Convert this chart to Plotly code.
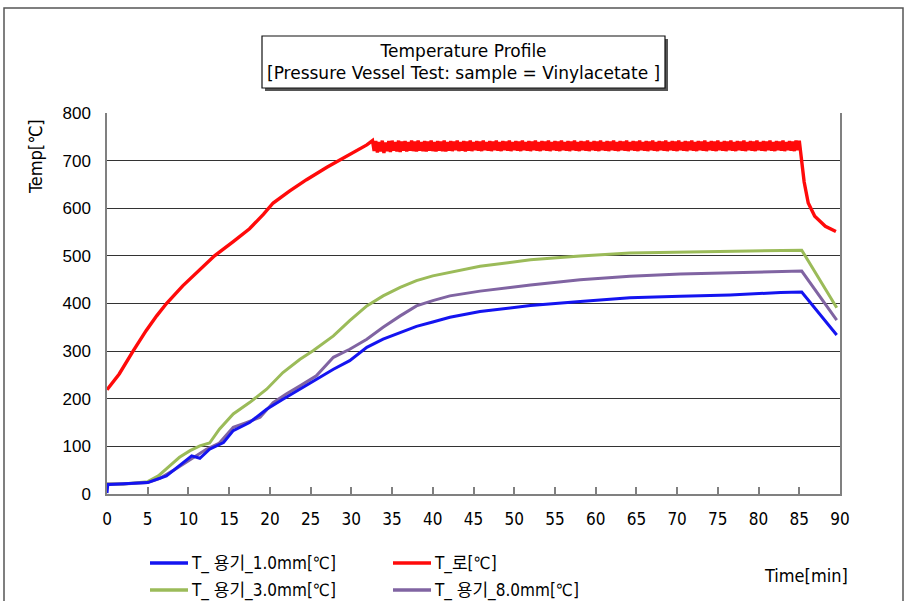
import plotly.graph_objects as go

# ---- furnace temperature (T_로) ----
furnace_rise_t = [0, 1.5, 3.2, 4.8, 6.1, 7.3, 9.3, 11.4, 13.2, 15.5, 17.5,
                  19.2, 20.4, 22.4, 24.5, 27.0, 29.4, 31.9, 32.6]
furnace_rise_v = [219, 252, 300, 343, 374, 400, 437, 470, 500, 530, 557,
                  587, 611, 636, 660, 686, 709, 733, 742]

# plateau logged every 0.2 min from 32.8 to 85.0 min
furnace_plateau_start = 32.8
furnace_plateau_step = 0.2
furnace_plateau_v = [
    720, 741, 717, 739, 719, 742, 716, 738, 720, 741, 718, 742, 721, 739, 719, 742, 718, 740, 721, 741,
    719, 739, 721, 742, 720, 740, 719, 742, 721, 739, 720, 741, 719, 740, 721, 742, 720, 739, 719, 741,
    721, 740, 720, 742, 719, 739, 721, 741, 720, 740, 722, 742, 720, 739, 721, 741, 719, 740, 721, 742,
    720, 739, 722, 741, 721, 740, 720, 742, 722, 739, 721, 741, 720, 740, 722, 742, 721, 739, 720, 741,
    722, 740, 721, 742, 720, 739, 722, 741, 721, 740, 720, 742, 722, 739, 721, 741, 720, 740, 722, 742,
    721, 739, 720, 741, 722, 740, 721, 742, 720, 739, 722, 741, 721, 740, 720, 742, 722, 739, 721, 741,
    720, 740, 722, 742, 721, 739, 720, 741, 722, 740, 721, 742, 720, 739, 722, 741, 721, 740, 720, 742,
    722, 739, 721, 741, 720, 740, 722, 742, 721, 739, 720, 741, 722, 740, 721, 742, 720, 739, 722, 741,
    721, 740, 720, 742, 722, 739, 721, 741, 720, 740, 722, 742, 721, 739, 720, 741, 722, 740, 721, 742,
    720, 739, 722, 741, 721, 740, 720, 742, 722, 739, 721, 741, 720, 740, 722, 742, 721, 739, 720, 741,
    722, 740, 721, 742, 720, 739, 722, 741, 721, 740, 720, 742, 722, 739, 721, 741, 720, 740, 722, 742,
    721, 739, 720, 741, 722, 740, 721, 742, 720, 739, 722, 741, 721, 740, 720, 742, 722, 739, 721, 741,
    720, 740, 722, 742, 721, 739, 720, 741, 722, 740, 721, 742, 720, 739, 722, 741, 721, 740, 720, 742,
    722, 742,
]

furnace_fall_t = [85.3, 85.6, 86.1, 86.9, 88.2, 89.5]
furnace_fall_v = [700, 655, 611, 583, 562, 551]

# ---- vessel wall temperatures ----
v1_t = [0, 0.1, 0.3, 2, 5, 7.3, 8.9, 10.4, 11.4, 12.6, 14.3, 15.5, 17.5, 19.6, 21.6, 23.7,
        25.7, 27.8, 29.8, 31.9, 33.9, 36, 38, 40, 42.1, 45.8, 52, 58.1, 64.2, 70.4, 76.5,
        82.7, 85.3, 89.6]
v1_v = [2, 20, 20, 21, 24, 38, 59, 80, 75, 94, 108, 133, 150, 178, 199, 220,
        241, 262, 280, 308, 325, 339, 352, 361, 371, 383, 396, 404, 412, 415, 418,
        423, 424, 334]

v3_t = [0, 2, 5, 6.3, 7.7, 8.9, 10.2, 11.4, 12.6, 13.8, 15.5, 17.5, 19.6, 21.6, 23.7, 25.3,
        27.8, 29.8, 31.9, 33.9, 36, 38, 40, 42.1, 44.1, 45.8, 52, 58.1, 64.2, 70.4, 76.5,
        82.7, 85.3, 89.6]
v3_v = [21, 21, 26, 38, 59, 77, 91, 101, 107, 136, 168, 192, 220, 255, 283, 301,
        332, 364, 395, 416, 434, 448, 458, 465, 472, 478, 492, 500, 506, 508, 510,
        511, 512, 391]

v8_t = [0, 2, 5, 6.5, 8.1, 9.7, 11, 12.2, 13.8, 15.5, 17.1, 18.8, 20.4, 22, 23.7, 25.7,
        27.8, 29.8, 31.9, 33.9, 36, 38, 40, 42.1, 45.8, 52, 58.1, 64.2, 70.4, 76.5, 82.7,
        85.3, 89.6]
v8_v = [21, 21, 24, 33, 49, 66, 80, 94, 107, 140, 150, 161, 192, 210, 227, 248,
        287, 304, 325, 350, 374, 395, 406, 416, 426, 439, 450, 457, 462, 465, 467,
        468, 365]

x_ticks = list(range(0, 95, 5))
y_ticks = list(range(0, 900, 100))

series_names = ["T_ 용기_1.0mm[℃]", "T_로[℃]", "T_ 용기_3.0mm[℃]", "T_ 용기_8.0mm[℃]"]
series_colors = ["#1414F0", "#FF0A0A", "#9BBB59", "#8064A2"]

furnace_plateau_t = [round(furnace_plateau_start + i * furnace_plateau_step, 2)
                     for i in range(len(furnace_plateau_v))]
furnace_t = furnace_rise_t + furnace_plateau_t + furnace_fall_t
furnace_v = furnace_rise_v + furnace_plateau_v + furnace_fall_v

# page geometry (px) used to place items outside the plot area
W, H = 908, 601
L, R, T, B = 107, 68, 113, 107
PW, PH = W - L - R, H - T - B


def px(x):
    return (x - L) / PW


def py(y):
    return (H - B - y) / PH


NARROW = "Liberation Sans Narrow, DejaVu Sans Condensed, Noto Sans CJK KR, sans-serif"

fig = go.Figure()

traces = [
    (v3_t, v3_v, 2, 3.0),
    (v8_t, v8_v, 3, 3.0),
    (v1_t, v1_v, 0, 3.0),
    (furnace_t, furnace_v, 1, 3.4),
]
for t, v, idx, w in traces:
    fig.add_trace(go.Scatter(
        x=t, y=v, mode="lines", name=series_names[idx],
        line=dict(color=series_colors[idx], width=w),
        showlegend=False, hoverinfo="x+y+name",
    ))

shapes = []
annotations = []

# outer frame
shapes.append(dict(type="rect", xref="paper", yref="paper",
                   x0=px(4), x1=px(903), y0=py(612), y1=py(8),
                   line=dict(color="#555555", width=1.5), fillcolor="rgba(0,0,0,0)",
                   layer="above"))

# title box with drop shadow
shapes.append(dict(type="rect", xref="paper", yref="paper",
                   x0=px(265), x1=px(668), y0=py(91), y1=py(39),
                   line=dict(width=0), fillcolor="#555555"))
shapes.append(dict(type="rect", xref="paper", yref="paper",
                   x0=px(262), x1=px(665), y0=py(88), y1=py(36),
                   line=dict(color="#111111", width=1.2), fillcolor="#FFFFFF"))
annotations.append(dict(xref="paper", yref="paper", x=px(463), y=py(62),
                        text="Temperature Profile<br>[Pressure Vessel Test: sample = Vinylacetate ]",
                        showarrow=False, align="center", xanchor="center", yanchor="middle",
                        font=dict(family="DejaVu Sans", size=17, color="#000000")))

# axis titles
annotations.append(dict(xref="paper", yref="paper", x=px(35), y=py(157),
                        text="Temp[℃]", textangle=-90, showarrow=False,
                        xanchor="center", yanchor="middle",
                        font=dict(family=NARROW, size=18, color="#000000")))
annotations.append(dict(xref="paper", yref="paper", x=px(806), y=py(575),
                        text="Time[min]", showarrow=False,
                        xanchor="center", yanchor="middle",
                        font=dict(family=NARROW, size=18, color="#000000")))

# legend drawn as two rows of two entries
legend_slots = [(0, 150, 563), (1, 393, 563), (2, 150, 590), (3, 393, 590)]
for idx, lx, ly in legend_slots:
    shapes.append(dict(type="line", xref="paper", yref="paper",
                       x0=px(lx), x1=px(lx + 38), y0=py(ly), y1=py(ly),
                       line=dict(color=series_colors[idx], width=3.5)))
    annotations.append(dict(xref="paper", yref="paper", x=px(lx + 39), y=py(ly),
                            text=series_names[idx], showarrow=False,
                            xanchor="left", yanchor="middle",
                            font=dict(family=NARROW, size=17, color="#000000")))

fig.update_layout(
    width=W, height=H,
    margin=dict(l=L, r=R, t=T, b=B, pad=0),
    paper_bgcolor="#FFFFFF", plot_bgcolor="#FFFFFF",
    shapes=shapes, annotations=annotations,
    showlegend=False,
    xaxis=dict(range=[0, 90], tickvals=x_ticks, ticktext=[str(v) for v in x_ticks],
               showgrid=False, zeroline=False,
               showline=True, linecolor="#808080", linewidth=1.5,
               ticks="inside", ticklen=7, tickcolor="#808080", tickwidth=1.5,
               ticklabelstandoff=9,
               tickfont=dict(family=NARROW, size=17, color="#000000")),
    yaxis=dict(range=[0, 800], tickvals=y_ticks,
               showgrid=True, gridcolor="#333333", gridwidth=1.2, zeroline=False,
               showline=True, mirror=True, linecolor="#808080", linewidth=1.5,
               ticks="", ticklabelstandoff=11,
               tickfont=dict(family="Liberation Sans, Arial, sans-serif",
                             size=17, color="#000000")),
)

fig.write_html("out.html")
